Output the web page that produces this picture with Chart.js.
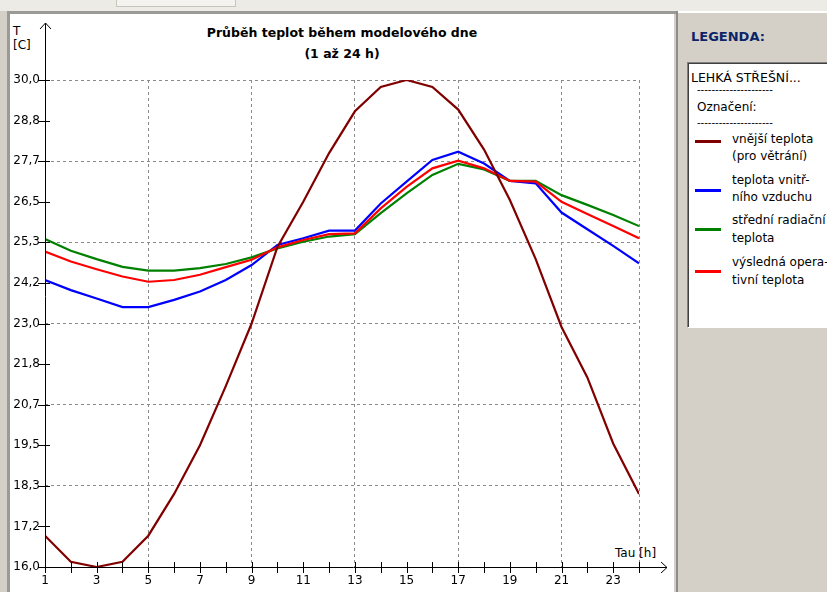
<!DOCTYPE html>
<html>
<head>
<meta charset="utf-8">
<script src="https://cdn.jsdelivr.net/npm/chart.js@4/dist/chart.umd.min.js"></script>
<style>
  html, body { margin: 0; padding: 0; }
  body { width: 827px; height: 592px; background: #d4d0c8; position: relative; overflow: hidden;
         font-family: "DejaVu Sans", sans-serif; font-size: 12px; color: #000; }
  .abs { position: absolute; white-space: nowrap; line-height: 14px; }
  #topstrip { position: absolute; left: 0; top: 0; width: 827px; height: 11px; background: #ecebe6; }
  #tab { position: absolute; left: 116px; top: 0; width: 118px; height: 6px; background: #f4f3ef; border-bottom: 1px solid #c8c4bc; border-left: 1px solid #c8c4bc; border-right: 1px solid #c8c4bc; }
  #frameL { position: absolute; left: 7px; top: 11px; width: 3px; height: 581px; background: #9a9a96; }
  #frameT { position: absolute; left: 7px; top: 11px; width: 669px; height: 3px; background: #9a9a96; }
  #white { position: absolute; left: 10px; top: 14px; width: 664px; height: 578px; background: #fff; }
  #sep { position: absolute; left: 676px; top: 11px; width: 2px; height: 581px; background: #8c8c88; }
  #sepT { position: absolute; left: 678px; top: 11px; width: 149px; height: 2px; background: #fff; }
  canvas { position: absolute; left: 0; top: 0; }
  #legbox { position: absolute; left: 687px; top: 62px; width: 150px; height: 264px; background: #fff;
            border-top: 1px solid #808080; border-left: 1px solid #808080; border-bottom: 1px solid #fff;
            box-shadow: inset 1px 1px 0 #404040; }
  .sw { position: absolute; left: 695px; width: 26px; height: 3px; }
  .dash { font-size: 10px; letter-spacing: 0; }
</style>
</head>
<body>
<div id="topstrip"></div>
<div id="tab"></div>
<div id="frameL"></div>
<div id="frameT"></div>
<div id="white"></div>
<div id="sep"></div>
<div id="sepT"></div>

<div class="abs" style="left:13px; top:24px;">T</div>
<div class="abs" style="left:13px; top:38px;">[C]</div>
<div class="abs" style="left:192px; top:26px; width:300px; text-align:center; font-weight:bold; font-size:12.5px;">Průběh teplot během modelového dne</div>
<div class="abs" style="left:192px; top:47px; width:300px; text-align:center; font-weight:bold; font-size:12.5px;">(1 až 24 h)</div>
<div class="abs" style="left:615px; top:546px;">Tau [h]</div>

<canvas id="c" width="680" height="592"></canvas>

<div class="abs" style="left:691px; top:30px; font-weight:bold; font-size:13px; color:#0a246a;">LEGENDA:</div>
<div id="legbox"></div>
<div class="abs" style="left:691px; top:71px; font-size:12.5px;">LEHKÁ STŘEŠNÍ...</div>
<div class="abs dash" style="left:697px; top:83px;">---------------------</div>
<div class="abs" style="left:697px; top:100px;">Označení:</div>
<div class="abs dash" style="left:697px; top:116px;">---------------------</div>

<div class="sw" style="top:140px; background:#800000;"></div>
<div class="abs" style="left:732px; top:132px;">vnější teplota</div>
<div class="abs" style="left:732px; top:149px;">(pro větrání)</div>

<div class="sw" style="top:189px; background:#0000ff;"></div>
<div class="abs" style="left:732px; top:173px;">teplota vnitř-</div>
<div class="abs" style="left:732px; top:190px;">ního vzduchu</div>

<div class="sw" style="top:228px; background:#008000;"></div>
<div class="abs" style="left:732px; top:213px;">střední radiační</div>
<div class="abs" style="left:732px; top:231px;">teplota</div>

<div class="sw" style="top:270px; background:#ff0000;"></div>
<div class="abs" style="left:732px; top:255px;">výsledná opera-</div>
<div class="abs" style="left:732px; top:273px;">tivní teplota</div>

<script>
// ---- data ----
const hours = [1,2,3,4,5,6,7,8,9,10,11,12,13,14,15,16,17,18,19,20,21,22,23,24];
const xTickLabels = ['1','','3','','5','','7','','9','','11','','13','','15','','17','','19','','21','','23',''];
const xGridHours = [5,9,13,17,21,24];
const yTickLabels = ['16,0','17,2','18,3','19,5','20,7','21,8','23,0','24,2','25,3','26,5','27,7','28,8','30,0'];
const yMin = 16, yMax = 30;

const outdoorTemp   = [16.9,16.15,16.0,16.15,16.9,18.1,19.5,21.2,23.0,25.2,26.5,27.9,29.1,29.8,30.0,29.8,29.15,28.0,26.55,24.85,22.9,21.45,19.55,18.1];
const indoorAirTemp = [24.25,23.96,23.72,23.47,23.47,23.68,23.92,24.25,24.68,25.26,25.45,25.67,25.67,26.45,27.08,27.7,27.94,27.6,27.1,27.03,26.19,25.71,25.23,24.73];
const radiantTemp   = [25.43,25.09,24.85,24.63,24.52,24.52,24.59,24.71,24.9,25.16,25.35,25.5,25.57,26.17,26.74,27.27,27.59,27.43,27.1,27.1,26.69,26.41,26.12,25.8];
const operativeTemp = [25.07,24.78,24.56,24.35,24.2,24.25,24.4,24.62,24.83,25.19,25.4,25.57,25.59,26.31,26.93,27.46,27.68,27.46,27.1,27.08,26.5,26.15,25.8,25.45];

const seriesNames = ['vnější teplota (pro větrání)','teplota vnitřního vzduchu','střední radiační teplota','výsledná operativní teplota'];

const pts = arr => arr.map((v, i) => ({x: hours[i], y: v}));

const axesPlugin = {
  id: 'axesPlugin',
  afterDraw(chart) {
    const ctx = chart.ctx;
    const xs = chart.scales.x, ys = chart.scales.y;
    const x0 = xs.getPixelForValue(hours[0]);
    const y0 = ys.getPixelForValue(yMin);
    const xEnd = xs.getPixelForValue(hours[hours.length - 1]);
    const yTop = ys.getPixelForValue(yMax);
    ctx.save();
    ctx.strokeStyle = '#000';
    ctx.lineWidth = 1;
    ctx.beginPath();
    // y axis with arrow
    ctx.moveTo(Math.round(x0) + 0.5, y0 + 3);
    ctx.lineTo(Math.round(x0) + 0.5, yTop - 57);
    ctx.moveTo(Math.round(x0) - 5, yTop - 51);
    ctx.lineTo(Math.round(x0) + 0.5, yTop - 57);
    ctx.lineTo(Math.round(x0) + 6, yTop - 51);
    // x axis with arrow
    ctx.moveTo(x0 - 5, Math.round(y0) + 0.5);
    ctx.lineTo(xEnd + 28, Math.round(y0) + 0.5);
    ctx.moveTo(xEnd + 22, Math.round(y0) - 5);
    ctx.lineTo(xEnd + 28, Math.round(y0) + 0.5);
    ctx.lineTo(xEnd + 22, Math.round(y0) + 6);
    // x tick marks
    hours.forEach(h => {
      const px = Math.round(xs.getPixelForValue(h)) + 0.5;
      ctx.moveTo(px, y0 - 5);
      ctx.lineTo(px, y0 + 6);
    });
    // y tick marks
    ys.ticks.forEach(t => {
      const py = Math.round(ys.getPixelForValue(t.value)) + 0.5;
      ctx.moveTo(x0 - 7, py);
      ctx.lineTo(x0 + 5, py);
    });
    ctx.stroke();
    ctx.restore();
  }
};

new Chart(document.getElementById('c'), {
  type: 'line',
  data: {
    datasets: [
      { label: seriesNames[0], data: pts(outdoorTemp),   borderColor: '#800000', order: 0 },
      { label: seriesNames[1], data: pts(indoorAirTemp), borderColor: '#0000ff', order: 3 },
      { label: seriesNames[2], data: pts(radiantTemp),   borderColor: '#008000', order: 2 },
      { label: seriesNames[3], data: pts(operativeTemp), borderColor: '#ff0000', order: 1 }
    ]
  },
  options: {
    responsive: false,
    animation: false,
    devicePixelRatio: 1,
    layout: { padding: { top: 80, right: 41, bottom: 0, left: 0 } },
    elements: {
      line: { borderWidth: 2.2, tension: 0, fill: false },
      point: { radius: 0, hoverRadius: 0 }
    },
    plugins: { legend: { display: false }, title: { display: false }, tooltip: { enabled: false } },
    scales: {
      x: {
        type: 'linear', min: hours[0], max: hours[hours.length - 1],
        afterFit(s) { s.height = 25; },
        border: { display: false, dash: [3, 3] },
        grid: {
          drawTicks: false,
          lineWidth: 1,
          color: c => (c.tick && xGridHours.includes(c.tick.value)) ? '#8a8a8a' : 'rgba(0,0,0,0)'
        },
        ticks: {
          stepSize: 1, autoSkip: false, maxRotation: 0, padding: 7,
          color: '#000', font: { family: 'DejaVu Sans', size: 12 },
          callback: v => xTickLabels[hours.indexOf(v)] ?? ''
        }
      },
      y: {
        type: 'linear', min: yMin, max: yMax,
        afterFit(s) { s.width = 45; },
        afterBuildTicks(s) {
          s.ticks = yTickLabels.map((_, i) => ({ value: yMin + i * (yMax - yMin) / (yTickLabels.length - 1) }));
        },
        border: { display: false, dash: [3, 3] },
        grid: {
          drawTicks: false,
          lineWidth: 1,
          color: c => (c.index > 0 && c.index % 2 === 0) ? '#8a8a8a' : 'rgba(0,0,0,0)'
        },
        ticks: {
          padding: 5, color: '#000', font: { family: 'DejaVu Sans', size: 12 },
          callback: (v, i) => yTickLabels[i]
        }
      }
    }
  },
  plugins: [axesPlugin]
});
</script>
</body>
</html>
